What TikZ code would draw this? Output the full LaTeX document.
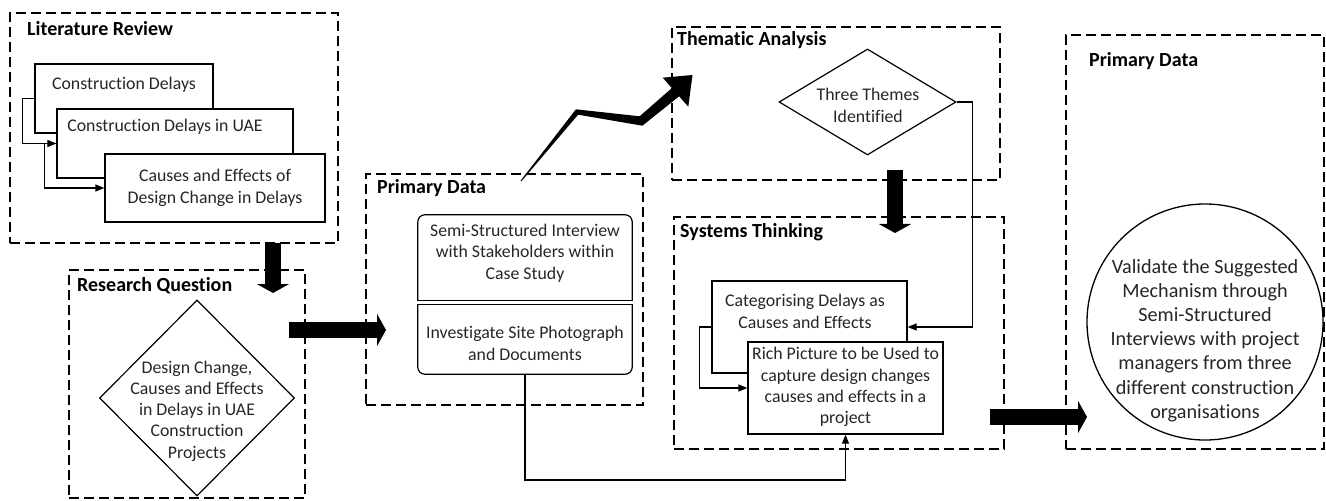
\documentclass[tikz,border=0pt]{standalone}
\usepackage{fontspec}
\setmainfont{Carlito}[RawFeature={-liga;-clig;-dlig;-calt}]
\usetikzlibrary{shapes.geometric,arrows.meta}

\begin{document}
\begin{tikzpicture}[x=1bp,y=-1bp,
  group/.style={draw, dash pattern=on 10bp off 5bp, line width=1.4bp, inner sep=0, fill=none},
  grouptitle/.style={anchor=west, inner sep=0, font=\bfseries\fontsize{20bp}{24bp}\selectfont},
  box/.style={draw, fill=white, line width=1.2bp, inner sep=0},
  edge/.style={line width=1.2bp, line cap=rect},
  txt/.style={align=center, inner sep=0, text=black!85, font=\fontsize{17.8bp}{21.3bp}\selectfont},
  bigtxt/.style={align=center, inner sep=0, text=black!85, font=\fontsize{20.2bp}{24.2bp}\selectfont},
  conn/.style={line width=1.2bp, -{Triangle[length=9bp,width=7bp]}},
  bigarrow/.style={line width=16bp, -{Triangle[length=9bp,width=32bp]}},
]
\useasboundingbox (0,0) rectangle (1326,501);

% ---------- dashed stage frames ----------
\node[group, minimum width=328bp, minimum height=230bp] (lit) at (174,128) {};
\node[grouptitle] (littitle) at (27,29) {Literature Review};

\node[group, minimum width=236bp, minimum height=228bp] (rq) at (187,384) {};
\node[grouptitle] (rqtitle) at (77,286) {Research Question};

\node[group, minimum width=277bp, minimum height=231bp] (pd) at (504.5,289.5) {};
\node[grouptitle] (pdtitle) at (377,188) {Primary Data};

\node[group, minimum width=328bp, minimum height=153bp] (ta) at (836,103.5) {};
\node[grouptitle] (tatitle) at (677,40) {Thematic Analysis};

\node[group, minimum width=330bp, minimum height=232bp] (st) at (839,333) {};
\node[grouptitle] (sttitle) at (680,232) {Systems Thinking};

\node[group, minimum width=258bp, minimum height=414bp] (pdv) at (1195,242) {};
\node[grouptitle] (pdvtitle) at (1089,61) {Primary Data};

% ---------- literature review stack ----------
\node[box, minimum width=178bp, minimum height=69bp] (cd1) at (124,98.5) {};
\node[txt] (cd1t) at (124,85) {Construction Delays};
\node[box, minimum width=236bp, minimum height=69bp] (cd2) at (175,143.5) {};
\node[txt] (cd2t) at (165,127) {Construction Delays in UAE};
\node[box, minimum width=220bp, minimum height=68bp] (cd3) at (215,188) {};
\node[txt] (cd3t) at (215,188) {Causes and Effects of\\Design Change in Delays};

\draw[conn] (cd1.west) -- ++(-12,0) |- (cd2.west);
\draw[conn] (cd2.west) -- ++(-12,0) |- (cd3.west);

% ---------- research question ----------
\node[draw, diamond, line width=1.2bp, inner sep=0, minimum width=195bp, minimum height=196bp, aspect=1] (rqd) at (197,398) {};
\node[txt] (rqdt) at (197,411) {Design Change,\\Causes and Effects\\in Delays in UAE\\Construction\\Projects};

% ---------- primary data (case study) ----------
% upper box: rounded top corners, square bottom corners
\node[inner sep=0, minimum width=214bp, minimum height=85bp] (sst) at (525,257.5) {};
\draw[edge, rounded corners=7bp] (sst.south west) -- (sst.north west) -- (sst.north east) -- (sst.south east);
\draw[edge] (sst.south west) -- (sst.south east);
\node[txt] (sstt) at (525,253) {Semi-Structured Interview\\with Stakeholders within\\Case Study};

% lower box: square top corners, rounded bottom corners
\node[inner sep=0, minimum width=214bp, minimum height=69bp] (isp) at (525,339.5) {};
\draw[edge, rounded corners=7bp] (isp.north west) -- (isp.south west) -- (isp.south east) -- (isp.north east);
\draw[edge] (isp.north west) -- (isp.north east);
\node[txt] (ispt) at (525,343.5) {Investigate Site Photograph\\and Documents};

% ---------- thematic analysis ----------
\node[draw, diamond, line width=1.2bp, inner sep=0, minimum width=177bp, minimum height=106bp] (td) at (867.5,102) {};
\node[txt] (tdt) at (868,105.5) {Three Themes\\Identified};

% ---------- systems thinking ----------
\node[box, minimum width=195bp, minimum height=92bp] (cat) at (809.5,327) {};
\node[txt] (catt) at (805,311.5) {Categorising Delays as\\Causes and Effects};
\node[box, minimum width=195bp, minimum height=92bp] (rp) at (845.5,388) {};
\node[txt] (rpt) at (845.5,387) {Rich Picture to be Used to\\capture design changes\\causes and effects in a\\project};

\draw[conn] (cat.west) -- ++(-12,0) |- (rp.west);
\draw[conn] (td.east) -- ++(16,0) |- (cat.east);
\coordinate (low) at (0,480);
\draw[conn] (isp.south) -- (isp.south |- low) -| (rp.south);

% ---------- validation ----------
\node[draw, circle, line width=1.3bp, inner sep=0, minimum size=236bp] (val) at (1205,322) {};
\node[bigtxt] (valt) at (1205,340.5) {Validate the Suggested\\Mechanism through\\Semi-Structured\\Interviews with project\\managers from three\\different construction\\organisations};

% ---------- block arrows between stages ----------
\coordinate (a1s) at (273,243);  \coordinate (a1e) at (273,293);
\coordinate (a2s) at (289,330);  \coordinate (a2e) at (386,330);
\coordinate (a3s) at (895,170);  \coordinate (a3e) at (895,233);
\coordinate (a4s) at (990,417);  \coordinate (a4e) at (1087,417);
\draw[bigarrow] (a1s) -- (a1e);
\draw[bigarrow] (a2s) -- (a2e);
\draw[bigarrow] (a3s) -- (a3e);
\draw[bigarrow] (a4s) -- (a4e);

% tapering arrow from the case-study data up to the thematic analysis
\fill (520.6,180.7) -- (575.9,109.3) -- (639.6,116.3) -- (671.9,88.1) -- (662.7,77.7)
  -- (692.5,75) -- (688.3,106.7) -- (679.1,96.3) -- (642.4,125.7) -- (578.1,114.7)
  -- (521.4,181.3) -- cycle;
\end{tikzpicture}
\end{document}
